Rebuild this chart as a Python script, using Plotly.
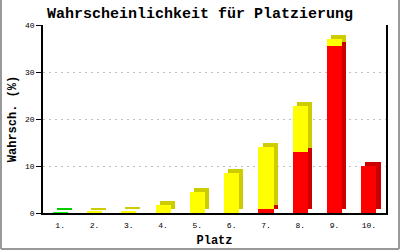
import plotly.graph_objects as go

places = [1, 2, 3, 4, 5, 6, 7, 8, 9, 10]
tick_labels = ["1.", "2.", "3.", "4.", "5.", "6.", "7.", "8.", "9.", "10."]
red = [0, 0, 0, 0, 0, 0, 0.9, 13.0, 35.5, 9.9]
yellow = [0, 0.3, 0.5, 1.7, 4.5, 8.6, 13.1, 9.8, 1.5, 0]
green = [0.15, 0, 0, 0, 0, 0, 0, 0, 0, 0]

# stacking order: bottom to top
series = [
    ("Rot", red, "#ff0000", "#cc0000"),
    ("Gelb", yellow, "#ffff00", "#cccc00"),
    ("Grün", green, "#00ff00", "#00cc00"),
]

W = 0.44      # bar front width (category units)
DX = 0.12     # depth offset in x
DY = 0.85     # depth offset in y

bases = []
acc = [0.0] * len(places)
for s in series:
    bases.append(list(acc))
    acc = [a + v for a, v in zip(acc, s[1])]

fig = go.Figure()

def nz(vals):
    return [v if v > 0 else None for v in vals]

# back (depth) faces first
for (name, vals, front, side), base in zip(series, bases):
    fig.add_trace(go.Bar(
        x=places, y=nz(vals), base=[b + DY for b in base],
        width=W, offset=-W / 2 + DX,
        marker=dict(color=side, line=dict(width=0)),
        showlegend=False, hoverinfo="skip",
    ))
# front faces
for (name, vals, front, side), base in zip(series, bases):
    fig.add_trace(go.Bar(
        x=places, y=nz(vals), base=base, name=name,
        width=W, offset=-W / 2,
        marker=dict(color=front, line=dict(width=0)),
        showlegend=False,
    ))

font = "Liberation Mono, DejaVu Sans Mono, monospace"

fig.update_layout(
    width=400, height=250,
    margin=dict(l=43, r=14, t=25, b=37, autoexpand=False),
    paper_bgcolor="white", plot_bgcolor="white",
    barmode="overlay", bargap=0,
    showlegend=False,
    font=dict(family=font, size=8, color="black"),
    title=dict(
        text="<b>Wahrscheinlichkeit für Platzierung</b>",
        x=0.5, xref="container", xanchor="center",
        y=1 - 13 / 250, yref="container", yanchor="middle",
        font=dict(family=font, size=15, color="black"),
    ),
    xaxis=dict(
        range=[0.5, 10.5], tickvals=places, ticktext=tick_labels,
        showgrid=False, zeroline=False, automargin=False,
        showline=True, linecolor="black", linewidth=1.5,
        ticks="", ticklabelstandoff=4,
        tickfont=dict(family=font, size=8),
        title=dict(text="<b>Platz</b>", font=dict(family=font, size=12), standoff=6),
        fixedrange=True,
    ),
    yaxis=dict(
        range=[0, 40], tick0=0, dtick=10,
        showgrid=True, gridcolor="#c0c0c0", griddash="2px,4px", gridwidth=1,
        zeroline=False, automargin=False,
        showline=True, linecolor="black", linewidth=1.5, mirror=True,
        ticks="outside", ticklen=5, tickcolor="black", tickwidth=1,
        tickfont=dict(family=font, size=8),
        title=dict(text="<b>Wahrsch. (%)</b>", font=dict(family=font, size=12), standoff=6),
        fixedrange=True,
    ),
)

# outer gray frame (left, right, bottom)
pw = 400 - 43 - 14
ph = 250 - 25 - 37
x_left = -43 / pw + 1 / pw
x_right = 1 + 14 / pw - 1 / pw
y_bot = -37 / ph + 1 / ph
y_top = 1 + 25 / ph
for x0, y0, x1, y1 in [(x_left, y_bot, x_left, y_top), (x_right, y_bot, x_right, y_top), (x_left, y_bot, x_right, y_bot)]:
    fig.add_shape(type="line", xref="paper", yref="paper", x0=x0, y0=y0, x1=x1, y1=y1,
                  line=dict(color="#999999", width=2), layer="above")

fig.write_html("out.html", config={"displayModeBar": False})
